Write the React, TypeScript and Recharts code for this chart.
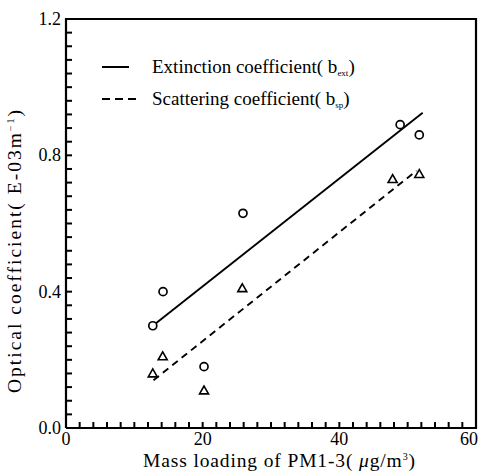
import {
  ComposedChart,
  Scatter,
  Line,
  XAxis,
  YAxis,
} from "recharts";

// circles: extinction coefficient, triangles: scattering coefficient
const extMass = [12.7, 14.2, 20.2, 25.9, 48.9, 51.7];
const extValues = [0.3, 0.4, 0.18, 0.63, 0.89, 0.86];
const scaMass = [12.7, 14.15, 20.2, 25.8, 47.8, 51.7];
const scaValues = [0.16, 0.21, 0.11, 0.41, 0.73, 0.745];

// least-squares lines as drawn in the figure (end points)
const extFitMass = [12.7, 52.2];
const extFitValues = [0.3, 0.925];
const scaFitMass = [12.8, 51.3];
const scaFitValues = [0.14, 0.755];

const xTicks = [0, 2, 4, 6, 8, 10, 12, 14, 16, 18, 20, 22, 24, 26, 28, 30, 32, 34, 36, 38, 40, 42, 44, 46, 48, 50, 52, 54, 56, 58, 60];
const xLabels = [0, 20, 40, 60];
const yTicks = [0, 0.04, 0.08, 0.12, 0.16, 0.2, 0.24, 0.28, 0.32, 0.36, 0.4, 0.44, 0.48, 0.52, 0.56, 0.6, 0.64, 0.68, 0.72, 0.76, 0.8, 0.84, 0.88, 0.92, 0.96, 1.0, 1.04, 1.08, 1.12, 1.16, 1.2];
const yLabels = [0, 0.4, 0.8, 1.2];

const FONT = "Liberation Serif, DejaVu Serif, serif";

const extData = extMass.map((x, i) => ({ x, y: extValues[i] }));
const scaData = scaMass.map((x, i) => ({ x, y: scaValues[i] }));
const extFit = extFitMass.map((x, i) => ({ x, y: extFitValues[i] }));
const scaFit = scaFitMass.map((x, i) => ({ x, y: scaFitValues[i] }));
const frame = [
  { x: 0, y: 0 },
  { x: 60, y: 0 },
  { x: 60, y: 1.2 },
  { x: 0, y: 1.2 },
  { x: 0, y: 0 },
];
const yTickPts = yTicks.map((y) => ({ x: 0, y }));
const xTickPts = xTicks.map((x) => ({ x, y: 0 }));

const isLabel = (v: number, list: number[]) => list.some((l) => Math.abs(l - v) < 1e-6);

function YTick(props: any) {
  const { x, y, payload } = props;
  const v = payload.value as number;
  if (!isLabel(v, yLabels)) return <g />;
  return (
    <text x={x - 5} y={y + 6} textAnchor="end" fontFamily={FONT} fontSize={18} fill="#000">
      {v.toFixed(1)}
    </text>
  );
}

function XTick(props: any) {
  const { x, y, payload } = props;
  const v = payload.value as number;
  if (!isLabel(v, xLabels)) return <g />;
  const last = v === xLabels[xLabels.length - 1];
  return (
    <text x={last ? x + 2 : x} y={y + 17} textAnchor={last ? "end" : "middle"} fontFamily={FONT} fontSize={18} fill="#000">
      {v}
    </text>
  );
}

// short inward tick marks
const YMark = (p: any) => <line x1={p.cx} x2={p.cx + 6} y1={p.cy} y2={p.cy} stroke="#000" strokeWidth={2} />;
const XMark = (p: any) => <line x1={p.cx} x2={p.cx} y1={p.cy} y2={p.cy - 6} stroke="#000" strokeWidth={2} />;

function Circle(props: any) {
  const { cx, cy } = props;
  return <circle cx={cx} cy={cy} r={4} fill="#fff" stroke="#000" strokeWidth={1.7} />;
}

function Triangle(props: any) {
  const { cx, cy } = props;
  const s = 4.5;
  return (
    <polygon
      points={`${cx},${cy - s} ${cx - s},${cy + s * 0.75} ${cx + s},${cy + s * 0.75}`}
      fill="#fff"
      stroke="#000"
      strokeWidth={1.6}
    />
  );
}

// titles and legend drawn on top of the chart
function Overlay() {
  return (
    <svg width={484} height={472} style={{ position: "absolute", left: 0, top: 0, pointerEvents: "none" }}>
      <g fontFamily={FONT} fill="#000">
        <line x1={102} x2={129} y1={67} y2={67} stroke="#000" strokeWidth={2} />
        <text x={152} y={73} fontSize={19}>
          Extinction coefficient( b<tspan fontSize={9} dy={3}>ext</tspan><tspan dy={-3}>)</tspan>
        </text>
        <line x1={102} x2={137} y1={99} y2={99} stroke="#000" strokeWidth={2} strokeDasharray="8 5" />
        <text x={152} y={105} fontSize={19}>
          Scattering coefficient( b<tspan fontSize={9} dy={3}>sp</tspan><tspan dy={-3}>)</tspan>
        </text>
        <text x={143} y={467} fontSize={19.5} textLength={272} lengthAdjust="spacing">
          Mass loading of PM1-3( <tspan fontStyle="italic">μ</tspan>g/m<tspan fontSize={10} dy={-7}>3</tspan><tspan dy={7}>)</tspan>
        </text>
        <text x={0} y={0} fontSize={19.5} textLength={283} lengthAdjust="spacing" transform="translate(21 393) rotate(-90)">
          Optical coefficient( E-03m<tspan fontSize={10} dy={-7}>−1</tspan><tspan dy={7}>)</tspan>
        </text>
      </g>
    </svg>
  );
}

export default function App() {
  return (
    <div style={{ position: "absolute", left: 0, top: 0, width: 484, height: 472, background: "#fff" }}>
      <ComposedChart width={484} height={472} margin={{ top: 19, right: 8, bottom: 14, left: 16 }}>
        <XAxis
          type="number"
          dataKey="x"
          domain={[0, 60]}
          ticks={xTicks}
          interval={0}
          tick={<XTick />}
          tickLine={false}
          tickSize={0}
          tickMargin={0}
          axisLine={false}
          height={30}
        />
        <YAxis
          type="number"
          dataKey="y"
          domain={[0, 1.2]}
          ticks={yTicks}
          interval={0}
          tick={<YTick />}
          tickLine={false}
          tickSize={0}
          tickMargin={0}
          axisLine={false}
          width={50}
        />
        <Line data={frame} dataKey="y" type="linear" stroke="#000" strokeWidth={2.2} dot={false} isAnimationActive={false} />
        <Scatter data={yTickPts} dataKey="y" shape={YMark} isAnimationActive={false} />
        <Scatter data={xTickPts} dataKey="y" shape={XMark} isAnimationActive={false} />
        <Line data={extFit} dataKey="y" type="linear" stroke="#000" strokeWidth={1.9} dot={false} isAnimationActive={false} />
        <Line data={scaFit} dataKey="y" type="linear" stroke="#000" strokeWidth={1.9} strokeDasharray="7 5" dot={false} isAnimationActive={false} />
        <Scatter data={extData} dataKey="y" shape={<Circle />} isAnimationActive={false} />
        <Scatter data={scaData} dataKey="y" shape={<Triangle />} isAnimationActive={false} />
      </ComposedChart>
      <Overlay />
    </div>
  );
}
